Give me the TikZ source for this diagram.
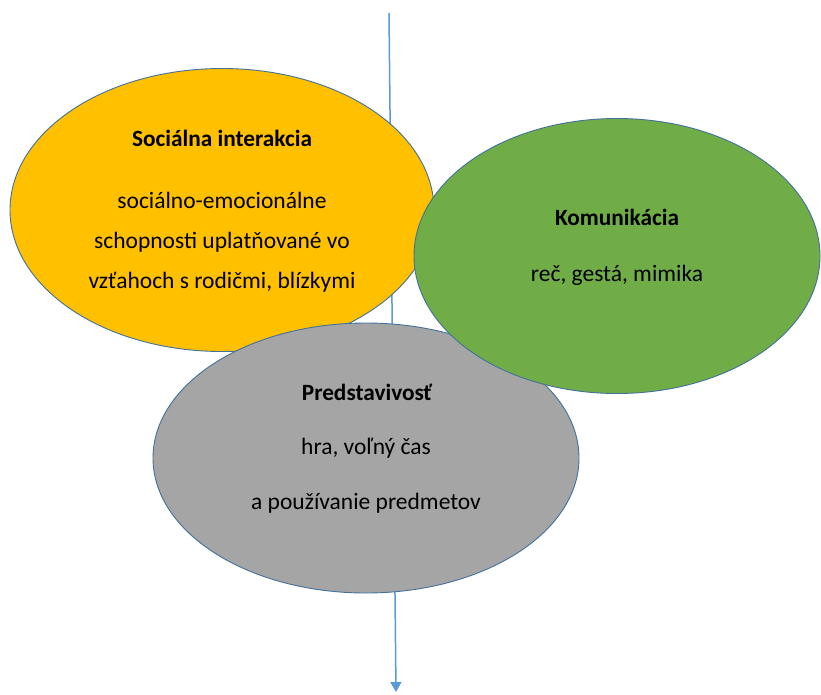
\documentclass[tikz,border=0pt]{standalone}
\usepackage{fontspec}
\setmainfont{Carlito}
\usetikzlibrary{shapes.geometric,arrows.meta}
\definecolor{outline}{RGB}{65,113,156}
\definecolor{flow}{RGB}{91,155,213}
\definecolor{sunny}{RGB}{255,192,0}
\definecolor{leafy}{RGB}{112,173,71}
\definecolor{stone}{RGB}{165,165,165}
\tikzset{
  bubble/.style={ellipse, draw=outline, line width=0.9pt, inner sep=0pt},
  headline/.style={font=\fontsize{23.3}{28}\selectfont\bfseries, text=black, inner sep=0pt},
  bodyline/.style={font=\fontsize{23.5}{28}\selectfont, text=black, inner sep=0pt},
}
\begin{document}
\begin{tikzpicture}[x=1pt,y=-1pt]
\useasboundingbox[fill=white] (0,0) rectangle (821,694);
% vertical flow arrow behind the bubbles
\coordinate (flowtop) at (389,13);
\coordinate (flowend) at (396,692);
\draw[flow, line width=1.5pt, -{Triangle[length=10pt,width=11pt]}] (flowtop) -- (flowend);
% bubbles
\node[bubble, fill=sunny, minimum width=424pt, minimum height=283pt] (social) at (222,210) {};
\node[bubble, fill=stone, minimum width=426pt, minimum height=270pt] (imagine) at (366,458) {};
\node[bubble, fill=leafy, minimum width=406pt, minimum height=275pt] (comm) at (617,256) {};
% texts
\node[headline] (socialT) at (222,138) {Sociálna interakcia};
\node[bodyline] (socialA) at (222,200) {sociálno-emocionálne};
\node[bodyline] (socialB) at (222,242) {schopnosti uplatňované vo};
\node[bodyline] (socialC) at (222,282) {vzťahoch s rodičmi, blízkymi};
\node[headline] (commT) at (617,217) {Komunikácia};
\node[bodyline] (commA) at (617,275) {reč, gestá, mimika};
\node[headline] (imagineT) at (367,392) {Predstavivosť};
\node[bodyline] (imagineA) at (366,448) {hra, voľný čas};
\node[bodyline] (imagineB) at (366,503) {a používanie predmetov};
\end{tikzpicture}
\end{document}
